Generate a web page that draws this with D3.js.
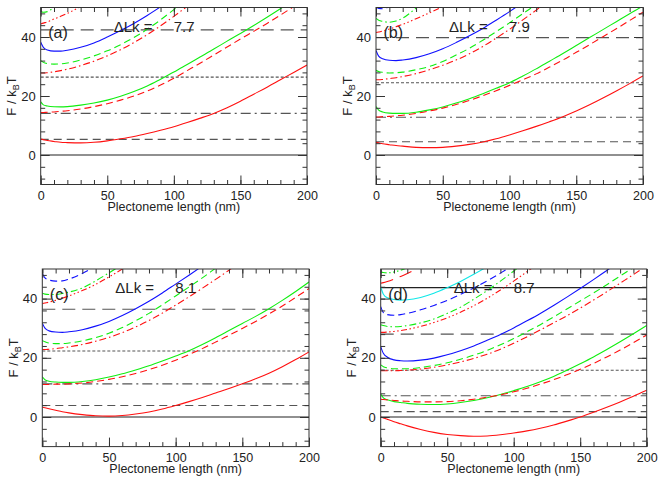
<!DOCTYPE html>
<html><head><meta charset="utf-8">
<script src="https://cdn.jsdelivr.net/npm/d3@7"></script>
<style>
html,body{margin:0;padding:0;background:#fff;}
svg{display:block;font-family:"Liberation Sans",Arial,sans-serif;}
</style></head>
<body>
<svg id="chart" width="664" height="484"></svg>
<script>
// ---------- data ----------
const lengthNm = [0,2,5,10,15,20,30,40,50,60,70,80,90,100,110,120,130,140,150,160,170,180,190,200];
const xTickValues = [0,50,100,150,200];
const yTickValues = [0,20,40];
const panelLabels = ["(a)","(b)","(c)","(d)"];
const deltaLkValues = ["7.7","7.9","8.1","8.7"];

// horizontal reference levels (F / kBT)
const levelsA = [0,5.3,14.1,26.4,42.4];
const levelsB = [0,4.5,12.8,24.5,39.8];
const levelsC = [0,3.9,11.2,22.3,36.4];
const levelsD = [0,1.8,7.2,15.8,28.0,43.7];

// panel (a) curves, values at lengthNm
const aRedSolid   = [5.4,5.2,4.9,4.6,4.3,4.2,4.1,4.3,4.8,5.5,6.3,7.3,8.4,9.6,11.0,12.5,14.1,16.0,18.2,20.6,23.0,25.5,28.0,30.5];
const aGreenSolid = [18.0,17.0,16.6,16.35,16.3,16.4,16.9,17.6,18.6,19.9,21.5,23.4,25.7,28.1,30.7,33.3,35.9,38.6,41.2,43.9,46.7,49.6,52.6,55.6];
const aRedDash    = [14.4,14.4,14.5,14.6,14.8,15.0,15.6,16.4,17.4,18.6,20.0,21.7,23.7,26.0,28.6,31.2,33.9,36.6,39.3,41.9,44.6,47.4,50.3,53.2];
const aBlueSolid  = [38.2,36.5,35.6,35.2,35.2,35.5,36.5,38.0,40.0,42.2,44.6,47.3,50.2,53.2];
const aGreenDash  = [32.0,31.4,31.0,30.8,30.9,31.2,32.2,33.6,35.3,37.4,39.8,42.6,45.8,49.3,52.9];
const aRedDashDot = [27.8,27.8,27.9,28.2,28.6,29.1,30.3,31.8,33.6,35.7,38.1,40.8,43.8,47.0,50.4,54.0];
const aGreenDashDot = [48.6,48.4,48.6,50.1,51.8];
const aRedDash3Dot  = [44.4,44.7,45.1,46.1,47.0,48.0,50.3,52.8];

// panel (b)
const bRedSolid   = [4.3,4.1,3.8,3.5,3.2,3.0,2.6,2.5,2.6,3.0,3.6,4.4,5.5,6.8,8.2,9.7,11.3,13.0,14.9,17.0,19.3,21.7,24.2,26.8];
const bGreenSolid = [16.4,15.2,14.6,14.2,14.1,14.1,14.5,15.3,16.3,17.6,19.1,20.8,22.6,24.5,26.8,29.2,31.8,34.4,37.1,39.8,42.5,45.2,47.9,50.5];
const bRedDash    = [12.9,12.9,13.0,13.1,13.3,13.5,14.1,14.9,15.9,17.1,18.5,20.1,21.8,23.6,25.5,27.5,29.8,32.2,34.8,37.4,40.1,42.8,45.6,48.4];
const bBlueSolid  = [35.4,33.5,32.6,32.1,32.0,32.2,33.0,34.3,36.0,38.1,40.4,42.9,45.7,48.6,51.7];
const bGreenDash  = [28.7,28.3,28.0,27.8,27.9,28.1,28.9,30.0,31.7,33.9,36.2,38.9,41.8,44.8,47.9,51.0];
const bRedDashDot = [25.5,25.5,25.6,25.9,26.2,26.6,27.6,28.9,30.4,32.2,34.3,36.8,39.6,42.6,45.8,49.1,52.5];
const bBlueDash   = [50.2,49.7,49.6,50.2,51.0];
const bGreenDashDot = [46.3,45.7,45.3,45.0,45.4,46.4,49.8,53.5];
const bRedDash3Dot  = [41.5,41.7,42.0,42.7,43.5,44.3,46.2,48.2,50.3];

// panel (c)
const cRedSolid   = [3.3,3.1,2.8,2.3,1.8,1.4,0.8,0.4,0.3,0.5,1.0,1.7,2.7,3.9,5.2,6.6,8.1,9.6,11.2,12.9,14.8,17.0,19.4,22.0];
const cGreenSolid = [13.6,12.6,12.1,11.8,11.7,11.7,12.0,12.6,13.5,14.6,15.9,17.3,18.9,20.6,22.4,24.5,26.8,29.2,31.6,34.0,36.6,39.4,42.4,45.6];
const cRedDash    = [11.0,11.0,11.0,11.1,11.1,11.2,11.5,12.0,12.7,13.6,14.7,16.0,17.5,19.2,21.1,23.1,25.3,27.6,29.9,32.3,34.8,37.5,40.4,43.4];
const cBlueSolid  = [31.7,30.0,29.1,28.7,28.6,28.8,29.5,30.7,32.3,34.3,36.6,39.1,41.9,44.9,47.9,51.0];
const cGreenDash  = [25.9,25.4,25.0,24.8,24.8,25.0,25.7,26.8,28.3,30.2,32.5,35.0,37.9,40.9,43.9,47.0,50.3,53.6];
const cRedDashDot = [22.8,22.8,22.9,23.1,23.4,23.7,24.5,25.6,26.9,28.5,30.4,32.6,35.1,37.8,40.6,43.5,46.5,49.6,52.8];
const cBlueDash   = [48.5,47.0,46.3,45.9,46.0,46.6,48.5,51.0];
const cGreenDashDot = [41.8,41.5,41.4,41.4,41.7,42.2,43.6,46.0,48.7,51.6];
const cRedDash3Dot  = [38.3,38.5,38.8,39.4,40.1,40.9,42.7,44.8,47.3,50.0,52.8];

// panel (d)
const dRedSolid   = [0.0,-0.3,-0.8,-1.6,-2.3,-3.0,-4.2,-5.2,-5.9,-6.3,-6.5,-6.4,-6.0,-5.4,-4.7,-3.8,-2.7,-1.4,0.0,1.6,3.3,5.1,7.0,9.0];
const dGreenSolid = [7.8,6.5,5.8,5.2,4.9,4.6,4.3,4.2,4.4,4.9,5.6,6.5,7.6,8.9,10.3,11.9,13.7,15.8,18.0,20.3,22.8,25.4,28.1,30.9];
const dRedDash    = [6.0,5.9,5.8,5.6,5.4,5.3,5.1,5.1,5.2,5.5,6.0,6.7,7.5,8.5,9.7,11.1,12.6,14.3,16.1,18.1,20.3,22.6,25.1,27.7];
const dBlueSolid  = [23.8,21.5,20.2,19.3,19.0,18.9,19.2,19.9,21.0,22.4,24.0,25.9,27.9,30.1,32.5,35.0,37.7,40.5,43.4,46.4,49.5,52.6];
const dGreenDash  = [17.6,17.0,16.6,16.3,16.3,16.3,16.7,17.4,18.3,19.5,20.9,22.5,24.4,26.5,28.8,31.2,33.8,36.5,39.2,41.9,44.7,47.6,50.5,53.5];
const dRedDashDot = [15.6,15.6,15.6,15.6,15.7,15.8,16.2,16.8,17.6,18.6,19.8,21.2,22.9,24.9,27.1,29.4,31.8,34.2,36.8,39.5,42.3,45.2,48.1,51.1];
const dBlueDash   = [37.3,35.3,34.6,34.4,34.6,35.0,36.2,37.7,39.4,41.4,43.6,46.0,48.6,51.3];
const dGreenDashDot = [31.2,30.9,30.6,30.5,30.6,30.9,31.8,33.1,35.0,37.1,39.8,42.7,45.9,49.3,52.9];
const dRedDash3Dot  = [28.6,28.6,28.7,28.9,29.2,29.6,30.6,31.9,33.5,35.4,37.6,40.1,42.9,45.9,49.1,52.4];
const dCyanSolid    = [44.0,41.5,40.3,39.7,39.5,39.6,40.4,41.8,43.7,45.8,48.2,50.8,53.5];
const dGreenDash3Dot = [49.0,48.8,48.7,49.0,49.6,50.4];
const dRedLongDash   = [45.2,45.4,45.8,46.6,47.5,48.5,50.7];

// ---------- styling ----------
const COLORS = {red:"#ff1010", green:"#10ee10", blue:"#1010ff", cyan:"#10e8e8"};
const DASH = {solid:null, dash:"7,4", dashdot:"7,3,1.5,3", dash3dot:"6,2.5,1.5,2.5,1.5,2.5,1.5,2.5", longdash:"13,7"};
const LEVEL_DASH = [null, "8,5", "10,4,2,4", "3,2", "13,7", null];

const panels = [
  {box:[40.7,307,7.5,184.5], levels:levelsA, curves:[
    [aRedSolid,"red","solid"],[aGreenSolid,"green","solid"],[aRedDash,"red","dash"],
    [aBlueSolid,"blue","solid"],[aGreenDash,"green","dash"],[aRedDashDot,"red","dashdot"],
    [aGreenDashDot,"green","dashdot"],[aRedDash3Dot,"red","dash3dot"]]},
  {box:[376,643,7.5,184.5], levels:levelsB, curves:[
    [bRedSolid,"red","solid"],[bGreenSolid,"green","solid"],[bRedDash,"red","dash"],
    [bBlueSolid,"blue","solid"],[bGreenDash,"green","dash"],[bRedDashDot,"red","dashdot"],
    [bBlueDash,"blue","dash"],[bGreenDashDot,"green","dashdot"],[bRedDash3Dot,"red","dash3dot"]]},
  {box:[42.3,309,269,446.6], levels:levelsC, curves:[
    [cRedSolid,"red","solid"],[cGreenSolid,"green","solid"],[cRedDash,"red","dash"],
    [cBlueSolid,"blue","solid"],[cGreenDash,"green","dash"],[cRedDashDot,"red","dashdot"],
    [cBlueDash,"blue","dash"],[cGreenDashDot,"green","dashdot"],[cRedDash3Dot,"red","dash3dot"]]},
  {box:[380.7,646.7,269,446.6], levels:levelsD, curves:[
    [dRedSolid,"red","solid"],[dGreenSolid,"green","solid"],[dRedDash,"red","dash"],
    [dBlueSolid,"blue","solid"],[dGreenDash,"green","dash"],[dRedDashDot,"red","dashdot"],
    [dBlueDash,"blue","dash"],[dGreenDashDot,"green","dashdot"],[dRedDash3Dot,"red","dash3dot"],
    [dCyanSolid,"cyan","solid"],[dGreenDash3Dot,"green","dash3dot"],[dRedLongDash,"red","longdash"]]}
];

const svg = d3.select("#chart");
const TEXT = "#222";
const AXIS = "#333";

panels.forEach((p, i) => {
  const [x0,x1,y0,y1] = p.box;
  const x = d3.scaleLinear().domain([0,200]).range([x0,x1]);
  const y = d3.scaleLinear().domain([-10,50]).range([y1,y0]);
  const g = svg.append("g");
  const clipId = "clip"+i;
  svg.append("clipPath").attr("id",clipId).append("rect")
    .attr("x",x0).attr("y",y0).attr("width",x1-x0).attr("height",y1-y0);

  const plot = g.append("g").attr("clip-path",`url(#${clipId})`);

  // reference levels
  p.levels.forEach((lv, k) => {
    plot.append("line").attr("x1",x0).attr("x2",x1).attr("y1",y(lv)).attr("y2",y(lv))
      .attr("stroke", (k===0||k===5) ? "#222" : "#555").attr("stroke-width",1.1)
      .attr("stroke-dasharray", LEVEL_DASH[k]);
  });

  // curves
  const line = d3.line().x((d,j)=>x(lengthNm[j])).y(d=>y(d)).curve(d3.curveMonotoneX);
  p.curves.forEach(([vals,col,sty]) => {
    plot.append("path").attr("d", line(vals)).attr("fill","none")
      .attr("stroke", COLORS[col]).attr("stroke-width",1.1)
      .attr("stroke-dasharray", DASH[sty]);
  });

  // axes with inward ticks
  const styleAxis = (sel, fs) => {
    sel.select(".domain").remove();
    sel.selectAll(".tick line").attr("stroke",AXIS).attr("stroke-width",1);
    sel.selectAll("text").attr("fill",TEXT).attr("font-size",(fs||13)+"px")
      .attr("font-family",'"Liberation Sans",Arial,sans-serif');
  };
  const xMinor = d3.range(0,201,10);
  const yMinor = d3.range(-8,50,4);
  g.append("g").attr("transform",`translate(0,${y1})`)
    .call(d3.axisBottom(x).tickValues(xMinor).tickSize(-4.5).tickFormat("")).call(styleAxis);
  g.append("g").attr("transform",`translate(0,${y1})`)
    .call(d3.axisBottom(x).tickValues(xTickValues).tickSize(-9).tickPadding(6.5).tickFormat(d3.format("d")))
    .call(styleAxis, 12.5);
  g.append("g").attr("transform",`translate(0,${y0})`)
    .call(d3.axisTop(x).tickValues(xMinor).tickSize(-4.5).tickFormat("")).call(styleAxis);
  g.append("g").attr("transform",`translate(0,${y0})`)
    .call(d3.axisTop(x).tickValues(xTickValues).tickSize(-9).tickFormat("")).call(styleAxis);
  g.append("g").attr("transform",`translate(${x0},0)`)
    .call(d3.axisLeft(y).tickValues(yMinor).tickSize(-4.5).tickFormat("")).call(styleAxis);
  g.append("g").attr("transform",`translate(${x0},0)`)
    .call(d3.axisLeft(y).tickValues(yTickValues).tickSize(-9).tickPadding(5).tickFormat(d3.format("d")))
    .call(styleAxis, 13);
  g.append("g").attr("transform",`translate(${x1},0)`)
    .call(d3.axisRight(y).tickValues(yMinor).tickSize(-4.5).tickFormat("")).call(styleAxis);
  g.append("g").attr("transform",`translate(${x1},0)`)
    .call(d3.axisRight(y).tickValues(yTickValues).tickSize(-9).tickFormat("")).call(styleAxis);

  // frame
  g.append("rect").attr("x",x0).attr("y",y0).attr("width",x1-x0).attr("height",y1-y0)
    .attr("fill","none").attr("stroke",AXIS).attr("stroke-width",1);

  // x title
  g.append("text").attr("x",(x0+x1)/2).attr("y",y1+26.5).attr("text-anchor","middle")
    .attr("font-size","12.5px").attr("fill",TEXT).text("Plectoneme length (nm)");
  // y title
  const yt = g.append("text").attr("transform",`translate(${x0-24.5},${(y0+y1)/2}) rotate(-90)`)
    .attr("text-anchor","middle").attr("font-size","13px").attr("fill",TEXT);
  yt.append("tspan").text("F / k");
  yt.append("tspan").attr("font-size","9px").attr("dy","3").text("B");
  yt.append("tspan").attr("dy","-3").text("T");

  // annotations
  g.append("text").attr("x",x0+7.5).attr("y",y0+30.5).attr("font-size","16px")
    .attr("fill",TEXT).text(panelLabels[i]);
  g.append("text").attr("x",x0+73).attr("y",y0+24).attr("font-size","15px")
    .attr("fill",TEXT).text("\u0394Lk =");
  g.append("text").attr("x",x0+133).attr("y",y0+24).attr("font-size","15px")
    .attr("fill",TEXT).text(deltaLkValues[i]);
});
</script>
</body></html>
